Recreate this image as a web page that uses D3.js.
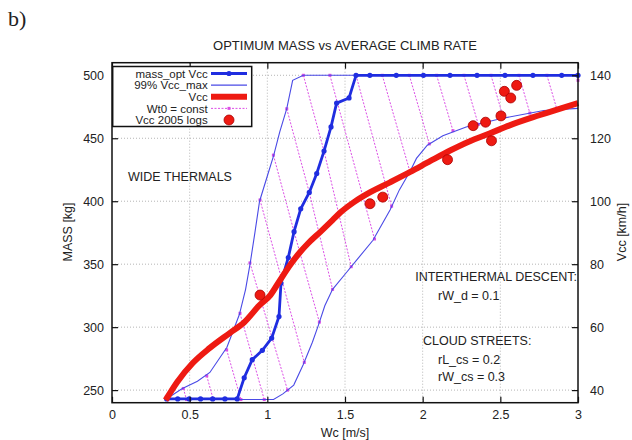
<!DOCTYPE html>
<html>
<head>
<meta charset="utf-8">
<script src="https://cdn.jsdelivr.net/npm/d3@7"></script>
<style>
  body { margin: 0; background: #fff; }
  text { font-family: "Liberation Sans", Arial, sans-serif; fill: #222; }
</style>
</head>
<body>
<div id="chart"></div>
<script>
// Tick values
var xTicks = [0, 0.5, 1, 1.5, 2, 2.5, 3];
var massTicks = [250, 300, 350, 400, 450, 500];
var vccTicks = [40, 60, 80, 100, 120, 140];

// mass_opt Vcc  [Wc m/s, mass kg]
var massOpt = [[0.352,243],[0.423,243],[0.497,243],[0.57,243],[0.648,243],[0.727,243],[0.806,243],
	[0.851,259.8],[0.903,274.2],[0.968,281.6],[1.028,291.3],[1.075,308.4],[1.088,335],[1.135,355.3],
	[1.172,375.8],[1.215,394],[1.27,407],[1.318,422],[1.365,439.8],[1.41,459],[1.446,477.9],
	[1.526,482],[1.571,500],[1.66,500],[1.83,500],[2.005,500],[2.176,500],[2.35,500],[2.53,500],
	[2.71,500],[2.895,500],[3,500]];

// 99% Vcc_max boundaries [Wc, mass]
var vmaxLeft = [[0.35,243],[0.45,251],[0.55,257],[0.63,264],[0.74,284],[0.82,310],[0.86,330],
	[0.89,351],[0.92,375],[0.95,400],[1.0,420],[1.04,436],[1.08,455],[1.125,473.5],[1.163,496],
	[1.232,500],[3,500]];
var vmaxRight = [[0.35,242.5],[1.04,242.5],[1.1,247],[1.17,254],[1.23,270],[1.29,288],[1.33,302],
	[1.37,317],[1.42,330],[1.5,342],[1.58,354],[1.68,369],[1.79,393],[1.85,409],[1.92,424],
	[1.96,434],[2.03,444.5],[2.13,452],[2.28,459],[2.5,465.5],[2.78,472],[3,473.7]];

// Wt0 = const lines [Wc, mass]
var wt0Lines = [
	[[0.35,245],[0.36,242.5]],
	[[0.459,251.3],[0.48,242.5]],
	[[0.61,261.3],[0.652,242.5]],
	[[0.738,282],[0.83,242.5]],
	[[0.824,311],[0.98,242.5]],
	[[0.888,351],[1.13,250]],
	[[0.953,401],[1.238,272]],
	[[1.039,436.6],[1.172,375.8],[1.335,304]],
	[[1.125,473.4],[1.27,407],[1.42,330]],
	[[1.232,500],[1.365,439.8],[1.54,348]],
	[[1.403,500],[1.69,370]],
	[[1.571,500],[1.80,396]],
	[[1.74,500],[1.918,423.5]],
	[[1.914,500],[2.043,445.5]],
	[[2.09,500],[2.195,456]],
	[[2.266,500],[2.358,461]],
	[[2.44,500],[2.52,466]],
	[[2.62,500],[2.69,470]],
	[[2.80,500],[2.865,472.7]],
	[[2.99,500],[3.0,496]]
];

// Vcc curve [Wc, km/h]
var vccCurve = [[0.345,36.8],[0.42,42.6],[0.52,48.6],[0.63,53.4],[0.76,58.2],[0.85,61.5],
	[0.95,67],[1.02,70.2],[1.08,74.8],[1.15,80],[1.21,83.8],[1.26,86.5],[1.34,90.2],[1.42,94],
	[1.47,96.4],[1.56,99.8],[1.66,102.8],[1.79,106],[1.92,109.3],[2.05,112.8],[2.18,116.2],
	[2.30,119],[2.43,121.5],[2.56,124.1],[2.75,127.3],[3.0,131.2]];

// Vcc 2005 logs [Wc, km/h]
var vccLogs = [[0.953,70.2],[1.661,99.2],[1.743,101.3],[2.16,113.2],[2.325,124],[2.405,125.1],
	[2.443,119.2],[2.504,127.1],[2.526,134.9],[2.567,132.8],[2.605,136.8]];

var legendNames = ["mass_opt Vcc", "99% Vcc_max", "Vcc", "Wt0 = const", "Vcc 2005 logs"];

var blueThick = "#1f2de0", blueThin = "#4a4ae6", red = "#ee1a12", magenta = "#dc4ee6";

var svg = d3.select("#chart").append("svg")
	.attr("width", 632)
	.attr("height", 440);

// Scales
var x = d3.scaleLinear().domain([0, 3]).range([112, 578]);
var yMass = d3.scaleLinear().domain([240, 510]).range([402.7, 62.7]);
var yVcc = d3.scaleLinear().domain([36, 144]).range([402.7, 62.7]);

// Grid
var grid = svg.append("g").attr("stroke", "#b5b5b5").attr("stroke-width", 1).attr("stroke-dasharray", "1,2");
grid.selectAll(".gx").data(xTicks.slice(1, -1)).enter().append("line")
	.attr("x1", function(d) { return x(d); }).attr("x2", function(d) { return x(d); })
	.attr("y1", 62.7).attr("y2", 402.7);
grid.selectAll(".gy").data(massTicks).enter().append("line")
	.attr("x1", 112).attr("x2", 578)
	.attr("y1", function(d) { return yMass(d); }).attr("y2", function(d) { return yMass(d); });

var massLine = d3.line().x(function(d) { return x(d[0]); }).y(function(d) { return yMass(d[1]); });
var vccLine = d3.line().x(function(d) { return x(d[0]); }).y(function(d) { return yVcc(d[1]); });

// Wt0 = const lines
var wt0 = svg.append("g");
wt0.selectAll("path").data(wt0Lines).enter().append("path")
	.attr("d", massLine)
	.attr("fill", "none")
	.attr("stroke", magenta)
	.attr("stroke-width", 1)
	.attr("stroke-dasharray", "2,1.5");
wt0Lines.forEach(function(l) {
	wt0.selectAll(null).data(l).enter().append("rect")
		.attr("x", function(d) { return x(d[0]) - 1.5; })
		.attr("y", function(d) { return yMass(d[1]) - 1.5; })
		.attr("width", 3).attr("height", 3)
		.attr("fill", magenta);
});

// 99% Vcc_max
[vmaxLeft, vmaxRight].forEach(function(b) {
	svg.append("path").datum(b)
		.attr("d", massLine)
		.attr("fill", "none")
		.attr("stroke", blueThin)
		.attr("stroke-width", 1.1);
});

// mass_opt Vcc
svg.append("path").datum(massOpt)
	.attr("d", massLine)
	.attr("fill", "none")
	.attr("stroke", blueThick)
	.attr("stroke-width", 2.8);
svg.append("g").selectAll("circle").data(massOpt).enter().append("circle")
	.attr("cx", function(d) { return x(d[0]); })
	.attr("cy", function(d) { return yMass(d[1]); })
	.attr("r", 2.6)
	.attr("fill", blueThick);

// Vcc
svg.append("path").datum(vccCurve)
	.attr("d", vccLine.curve(d3.curveMonotoneX))
	.attr("fill", "none")
	.attr("stroke", red)
	.attr("stroke-width", 6)
	.attr("stroke-linejoin", "round");

// Vcc 2005 logs
svg.append("g").selectAll("circle").data(vccLogs).enter().append("circle")
	.attr("cx", function(d) { return x(d[0]); })
	.attr("cy", function(d) { return yVcc(d[1]); })
	.attr("r", 5)
	.attr("fill", red)
	.attr("stroke", "#a00")
	.attr("stroke-width", 0.8);

// Axes (ticks point inward)
var fontSize = "12.5px";
function styleAxis(g) {
	g.select(".domain").remove();
	g.attr("font-family", null).attr("font-size", null);
	g.selectAll("line").attr("stroke", "#111").attr("stroke-width", 1.2);
	g.selectAll("text").style("font-size", fontSize).attr("fill", "#222");
}
svg.append("g").attr("transform", "translate(0,402.7)")
	.call(d3.axisBottom(x).tickValues(xTicks).tickSize(-6).tickPadding(7).tickFormat(d3.format("")))
	.call(styleAxis);
svg.append("g").attr("transform", "translate(0,62.7)")
	.call(d3.axisTop(x).tickValues(xTicks).tickSize(-6).tickFormat(""))
	.call(styleAxis);
svg.append("g").attr("transform", "translate(112,0)")
	.call(d3.axisLeft(yMass).tickValues(massTicks).tickSize(-6).tickPadding(8))
	.call(styleAxis);
svg.append("g").attr("transform", "translate(578,0)")
	.call(d3.axisRight(yVcc).tickValues(vccTicks).tickSize(-6).tickPadding(12))
	.call(styleAxis);

// Frame
svg.append("rect")
	.attr("x", 112).attr("y", 62.7)
	.attr("width", 466).attr("height", 340)
	.attr("fill", "none")
	.attr("stroke", "#111")
	.attr("stroke-width", 1.5);

// Legend
var legend = svg.append("g");
legend.append("rect")
	.attr("x", 112.7).attr("y", 66.5)
	.attr("width", 139).attr("height", 60)
	.attr("fill", "#fff")
	.attr("stroke", "#111")
	.attr("stroke-width", 1.5);
var rowY = d3.scalePoint().domain(legendNames).range([73.5, 120]);
legend.selectAll("text").data(legendNames).enter().append("text")
	.attr("x", 207.7)
	.attr("y", function(d) { return rowY(d) + 4.2; })
	.attr("text-anchor", "end")
	.style("font-size", "11.5px")
	.text(function(d) { return d; });
var r0 = rowY(legendNames[0]), r1 = rowY(legendNames[1]), r2 = rowY(legendNames[2]),
	r3 = rowY(legendNames[3]), r4 = rowY(legendNames[4]);
legend.append("line").attr("x1", 211).attr("x2", 247).attr("y1", r0).attr("y2", r0)
	.attr("stroke", blueThick).attr("stroke-width", 2.8);
legend.append("circle").attr("cx", 229).attr("cy", r0).attr("r", 2.6).attr("fill", blueThick);
legend.append("line").attr("x1", 211).attr("x2", 247).attr("y1", r1).attr("y2", r1)
	.attr("stroke", blueThin).attr("stroke-width", 1.1);
legend.append("line").attr("x1", 211).attr("x2", 247).attr("y1", r2).attr("y2", r2)
	.attr("stroke", red).attr("stroke-width", 6);
legend.append("line").attr("x1", 211).attr("x2", 247).attr("y1", r3).attr("y2", r3)
	.attr("stroke", magenta).attr("stroke-width", 1).attr("stroke-dasharray", "2,1.5");
legend.append("rect").attr("x", 227.5).attr("y", r3 - 1.5).attr("width", 3).attr("height", 3).attr("fill", magenta);
legend.append("circle").attr("cx", 229).attr("cy", r4).attr("r", 5)
	.attr("fill", red).attr("stroke", "#a00").attr("stroke-width", 0.8);

// Annotations
function note(txt, xPos, yPos, anchor) {
	svg.append("text")
		.attr("x", xPos).attr("y", yPos)
		.attr("text-anchor", anchor || "start")
		.style("font-size", fontSize)
		.text(txt);
}
note("WIDE THERMALS", 128, 180.5);
note("INTERTHERMAL DESCENT:", 577, 281, "end");
note("rW_d = 0.1", 438, 300);
note("CLOUD STREETS:", 423, 344.5);
note("rL_cs = 0.2", 438, 363.5);
note("rW_cs = 0.3", 438, 381);

// Titles
svg.append("text").attr("x", 8).attr("y", 26)
	.style("font-family", "'Liberation Serif', 'Times New Roman', serif")
	.style("font-size", "22px")
	.attr("fill", "#000")
	.text("b)");
svg.append("text").attr("x", 345).attr("y", 50)
	.attr("text-anchor", "middle")
	.style("font-size", "13px")
	.text("OPTIMUM MASS vs AVERAGE CLIMB RATE");
svg.append("text").attr("x", 345).attr("y", 436.5)
	.attr("text-anchor", "middle")
	.style("font-size", fontSize)
	.text("Wc [m/s]");
svg.append("text")
	.attr("transform", "translate(72,232) rotate(-90)")
	.attr("text-anchor", "middle")
	.style("font-size", fontSize)
	.text("MASS [kg]");
svg.append("text")
	.attr("transform", "translate(626,232) rotate(-90)")
	.attr("text-anchor", "middle")
	.style("font-size", fontSize)
	.text("Vcc [km/h]");
</script>
</body>
</html>
